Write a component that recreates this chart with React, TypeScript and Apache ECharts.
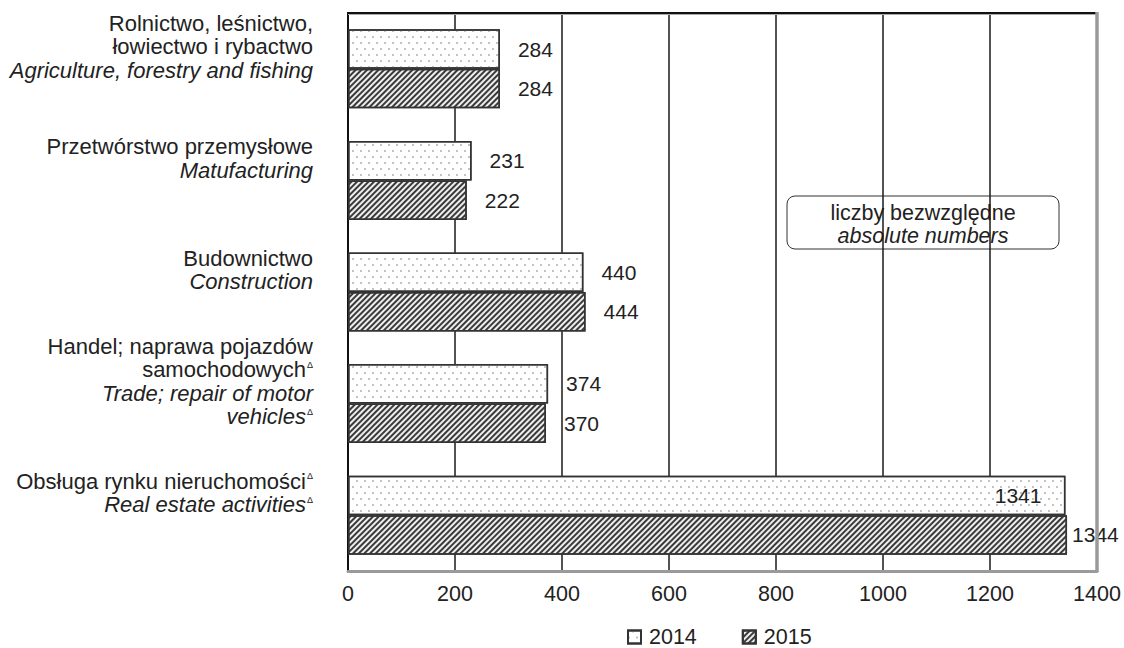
import React, { useEffect, useRef } from "react";
import * as echarts from "echarts";

const categories = [
  "Rolnictwo, leśnictwo, łowiectwo i rybactwo",
  "Przetwórstwo przemysłowe",
  "Budownictwo",
  "Handel; naprawa pojazdów samochodowych",
  "Obsługa rynku nieruchomości",
];
const labelPl = [
  ["Rolnictwo, leśnictwo,", "łowiectwo i rybactwo"],
  ["Przetwórstwo przemysłowe"],
  ["Budownictwo"],
  ["Handel; naprawa pojazdów", "samochodowych{sup|Δ}"],
  ["Obsługa rynku nieruchomości{sup|Δ}"],
];
const labelEn = [
  ["Agriculture, forestry and fishing"],
  ["Matufacturing"],
  ["Construction"],
  ["Trade; repair of motor", "vehicles{sup|Δ}"],
  ["Real estate activities{sup|Δ}"],
];
const seriesNames = ["2014", "2015"];
const values2014 = [284, 231, 440, 374, 1341];
const values2015 = [284, 222, 444, 370, 1344];
const xMin = 0;
const xMax = 1400;
const xInterval = 200;
const boxLines = ["liczby bezwzględne", "absolute numbers"];

const FONT = "'Liberation Sans', Arial, sans-serif";

export default function App() {
  const ref = useRef<HTMLDivElement>(null);
  useEffect(() => {
    if (!ref.current) return;
    const chart = echarts.init(ref.current, null, { renderer: "svg" });
    const gl = 348, gr = 1097, gt = 13, gb = 571;

    const mkData = (vals: number[], insideBig: boolean) =>
      vals.map((v) => {
        if (v > 1300) {
          return insideBig
            ? { value: v, label: { position: "insideRight", distance: 24 } }
            : { value: v, label: { position: "right", distance: 5 } };
        }
        return { value: v };
      });

    const lbl = (idx: number) => {
      const pl = labelPl[idx].map((l) => l.replace(/^(.*?)(\{sup\|Δ\})?$/, (_m, a, b) => `{pl|${a}}${b || ""}`));
      const en = labelEn[idx].map((l) => l.replace(/^(.*?)(\{sup\|Δ\})?$/, (_m, a, b) => `{en|${a}}${b || ""}`));
      return [...pl, ...en].join("\n");
    };

    const dotDecal = {
      symbol: "rect",
      symbolSize: 0.8,
      color: "#9a9a9a",
      dashArrayX: [[1.3, 5.2], [0, 3.2, 1.3, 2]],
      dashArrayY: [1.3, 4],
      rotation: 0,
    };
    const hatchDecal = {
      symbol: "rect",
      symbolSize: 1,
      color: "#3a3a3a",
      dashArrayX: [1, 0],
      dashArrayY: [1.6, 1.4],
      rotation: -Math.PI / 4,
    };

    chart.setOption({
      animation: false,
      textStyle: { fontFamily: FONT },
      grid: { left: gl, right: 1124 - gr, top: gt, bottom: 648 - gb, containLabel: false },
      xAxis: {
        type: "value",
        min: xMin,
        max: xMax,
        interval: xInterval,
        axisLine: { show: true, lineStyle: { color: "#9a9a9a", width: 3 } },
        axisTick: { show: false },
        axisLabel: { color: "#222", fontSize: 21.5, margin: 12, fontFamily: FONT, formatter: (v: number) => String(v) },
        splitLine: { show: true, lineStyle: { color: "#1a1a1a", width: 1.5 } },
      },
      yAxis: {
        type: "category",
        inverse: true,
        data: categories,
        axisLine: { show: true, lineStyle: { color: "#111", width: 2 } },
        axisTick: { show: false },
        axisLabel: {
          margin: 35,
          align: "right",
          padding: [0, 0, 44, 0],
          formatter: (_v: string, idx: number) => lbl(idx),
          rich: {
            pl: { fontSize: 22, lineHeight: 23.5, color: "#222", fontFamily: FONT },
            en: { fontSize: 22, lineHeight: 23.5, color: "#222", fontStyle: "italic", fontFamily: FONT },
            sup: { fontSize: 9, lineHeight: 23.5, color: "#222", verticalAlign: "top", padding: [2, 0, 0, 1], fontFamily: FONT },
          },
        },
      },
      legend: {
        left: 622,
        top: 621,
        icon: "rect",
        itemWidth: 13,
        itemHeight: 13,
        itemGap: 45,
        textStyle: { fontSize: 21.5, color: "#222", fontFamily: FONT, padding: [0, 0, 0, 3] },
        data: seriesNames,
      },
      series: [
        {
          name: seriesNames[0],
          type: "bar",
          data: mkData(values2014, true),
          barWidth: 39.5,
          barGap: "0%",
          itemStyle: { color: "#ffffff", borderColor: "#333", borderWidth: 1.5, decal: dotDecal },
          label: { show: true, position: "right", distance: 18, color: "#222", fontSize: 21, fontFamily: FONT },
        },
        {
          name: seriesNames[1],
          type: "bar",
          data: mkData(values2015, false),
          barWidth: 39.5,
          barGap: "0%",
          itemStyle: { color: "#eeeeee", borderColor: "#333", borderWidth: 1.5, decal: hatchDecal },
          label: { show: true, position: "right", distance: 18, color: "#222", fontSize: 21, fontFamily: FONT },
        },
      ],
      graphic: [
        { type: "line", z: 100, shape: { x1: gl - 1, y1: gt, x2: gr + 1, y2: gt }, style: { stroke: "#111", lineWidth: 2 } },
        { type: "line", z: 100, shape: { x1: gl, y1: gt + 1.5, x2: gr, y2: gt + 1.5 }, style: { stroke: "#aaa", lineWidth: 1 } },
        { type: "line", z: 100, shape: { x1: gr, y1: gt - 1, x2: gr, y2: gb + 1 }, style: { stroke: "#9a9a9a", lineWidth: 3.5 } },
        {
          type: "group",
          z: 100,
          children: [
            { type: "rect", shape: { x: 787, y: 196, width: 272, height: 53, r: 8 }, style: { fill: "#fff", stroke: "#333", lineWidth: 1 } },
            { type: "text", x: 923, y: 213, style: { text: boxLines[0], fontSize: 21.5, fill: "#222", fontFamily: FONT, align: "center", verticalAlign: "middle" } },
            { type: "text", x: 923, y: 236, style: { text: boxLines[1], fontSize: 21.5, fontStyle: "italic", fill: "#222", fontFamily: FONT, align: "center", verticalAlign: "middle" } },
          ],
        },
      ],
    });
    return () => chart.dispose();
  }, []);
  return <div ref={ref} style={{ position: "absolute", left: 0, top: 0, width: 1124, height: 648 }} />;
}
